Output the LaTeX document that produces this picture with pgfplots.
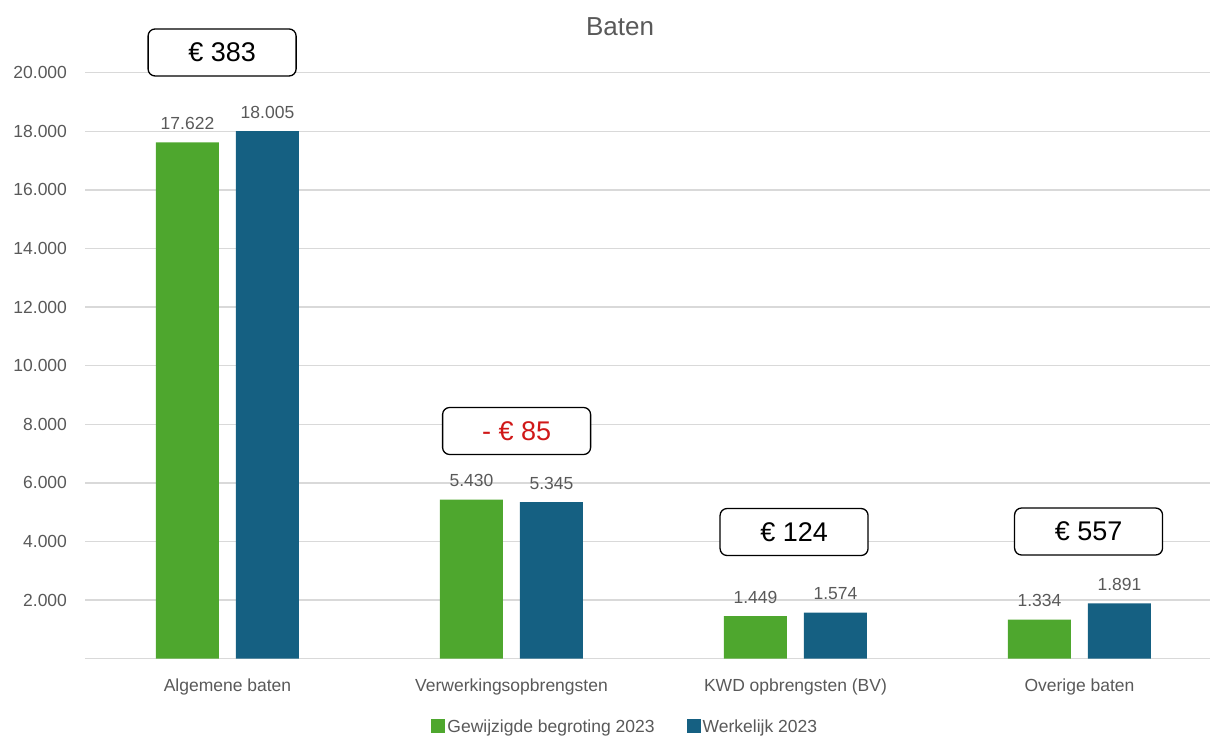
\documentclass[border=0pt]{standalone}
\usepackage{fontspec}
\setmainfont{Liberation Sans}
\usepackage{pgfplots}
\pgfplotsset{compat=1.18}
\definecolor{cgreen}{HTML}{4EA72E}
\definecolor{cblue}{HTML}{156082}
\definecolor{ctext}{HTML}{595959}
\definecolor{cgrid}{HTML}{D9D9D9}
\definecolor{cred}{HTML}{D01818}
\tikzset{valbox/.style={draw=black, rounded corners=7pt, line width=1.3pt, fill=white,
  minimum width=148pt, minimum height=47pt, inner sep=0pt, font=\fontsize{27}{30}\selectfont}}
\begin{document}
\begin{tikzpicture}
\path[use as bounding box] (-85.5pt,-79.3pt) rectangle (1124.5pt,658.7pt);
\begin{axis}[
  at={(0pt,0pt)}, anchor=south west,
  scale only axis, width=1124.5pt, height=586pt,
  xmin=-0.5, xmax=3.4595, ymin=0, ymax=20000,
  ybar=17pt, bar width=63pt,
  axis x line*=bottom, axis y line*=left,
  x axis line style={draw=cgrid, line width=1.5pt, -},
  y axis line style={draw=none},
  ymajorgrids, grid style={draw=cgrid, line width=1.5pt},
  major tick length=0pt,
  xtick={0,1,2,3},
  xticklabels={Algemene baten, Verwerkingsopbrengsten, KWD opbrengsten (BV), Overige baten},
  ytick={2000,4000,...,20000},
  scaled y ticks=false,
  /pgf/number format/fixed,
  /pgf/number format/precision=0,
  /pgf/number format/1000 sep={.},
  /pgf/number format/assume math mode=true,
  tick label style={font=\fontsize{17.5}{20}\selectfont, text=ctext},
  yticklabel style={xshift=-15pt},
  xticklabel style={yshift=-17pt},
  nodes near coords,
  nodes near coords style={font=\fontsize{17.5}{20}\selectfont, text=ctext, yshift=9pt},
  legend style={at={(0.48,-0.1166)}, anchor=center, draw=none,
    legend columns=2, font=\fontsize{17.5}{20}\selectfont, text=ctext,
    /tikz/every even column/.append style={column sep=30pt}},
  legend image code/.code={\fill[#1] (0pt,-6pt) rectangle (14pt,8pt);},
  clip=false,
]
\addplot[fill=cgreen, draw=none] coordinates {(0,17622) (1,5430) (2,1449) (3,1334)};
\addplot[fill=cblue, draw=none] coordinates {(0,18005) (1,5345) (2,1574) (3,1891)};
\legend{Gewijzigde begroting 2023, Werkelijk 2023}
\node[valbox] at (axis cs:-0.019,20690) {€ 383};
\node[valbox, text=cred] at (axis cs:1.018,7771) {- € 85};
\node[valbox] at (axis cs:1.995,4324) {€ 124};
\node[valbox] at (axis cs:3.032,4341) {€ 557};
\end{axis}
\node[font=\fontsize{26}{30}\selectfont, text=ctext] at (534.5pt,631.7pt) {Baten};
\end{tikzpicture}
\end{document}
